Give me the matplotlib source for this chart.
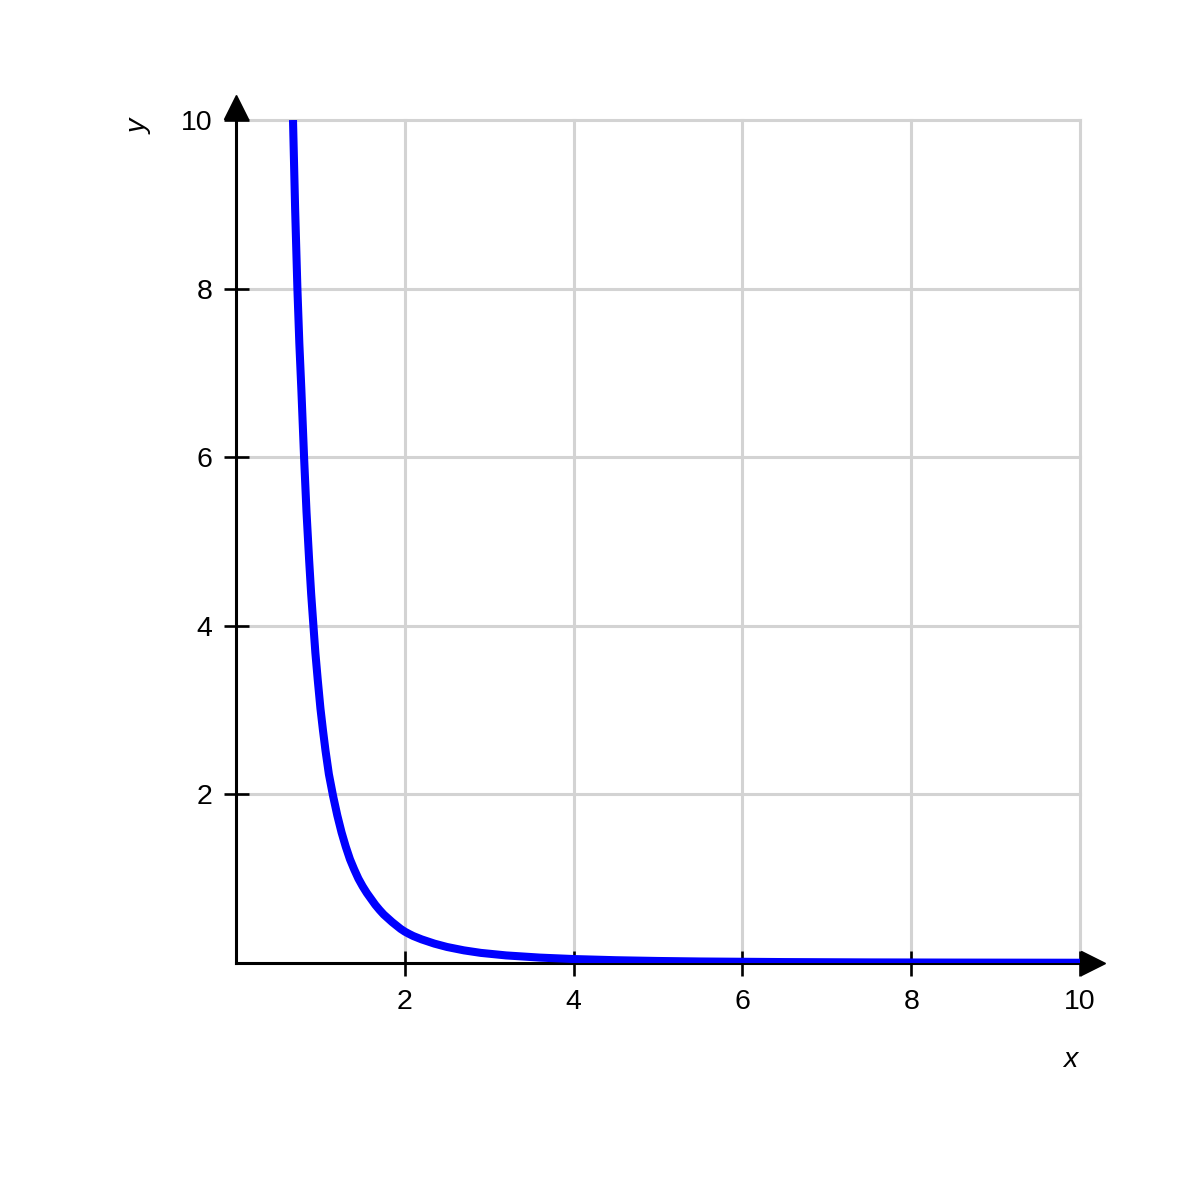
import matplotlib.pyplot as plt

# points
curve_x = [0.675, 0.70, 0.727, 0.75, 0.774, 0.806, 0.835, 0.866, 0.89, 0.917,
           0.94, 0.968, 1.0, 1.03, 1.06, 1.1, 1.15, 1.2, 1.25, 1.3, 1.35,
           1.4, 1.45, 1.5, 1.55, 1.6, 1.65, 1.7, 1.75, 1.8, 1.85, 1.9, 1.95,
           2.0, 2.05, 2.1, 2.2, 2.35, 2.5, 2.7, 2.9, 3.2, 3.6, 4.0, 4.5, 5.0,
           5.5, 6.5, 7.5, 8.5, 10.0]
curve_y = [10.0, 8.95, 8.0, 7.35, 6.8, 6.0, 5.35, 4.78, 4.38, 4.0,
           3.68, 3.36, 3.02, 2.76, 2.52, 2.24, 1.98, 1.75, 1.55, 1.38, 1.23,
           1.11, 1.0, 0.91, 0.83, 0.76, 0.69, 0.63, 0.575, 0.53, 0.485, 0.445, 0.405,
           0.372, 0.345, 0.32, 0.28, 0.23, 0.19, 0.15, 0.12, 0.09, 0.064, 0.047, 0.033,
           0.024, 0.018, 0.011, 0.007, 0.005, 0.003]

x_ticks = [2, 4, 6, 8, 10]
y_ticks = [2, 4, 6, 8, 10]
x_tick_labels = ['2', '4', '6', '8', '10']
y_tick_labels = ['2', '4', '6', '8', '10']

plt.rcParams['font.family'] = ['Liberation Sans', 'DejaVu Sans']

fig = plt.figure(figsize=(12, 12), dpi=100)
ax = fig.add_axes([0.1967, 0.1975, 0.7033, 0.7025])
ax.set_xlim(0, 10)
ax.set_ylim(0, 10)

# grid (unclipped so the lines on the edges keep full width)
for v in x_ticks:
    ax.plot([v, v], [0, 10], color='#d3d3d3', lw=2.2, zorder=1, clip_on=False)
for v in y_ticks:
    ax.plot([0, 10], [v, v], color='#d3d3d3', lw=2.2, zorder=1, clip_on=False)

for s in ax.spines.values():
    s.set_visible(False)

# axes with arrows
ax.plot([0, 0], [0, 10.1], color='black', lw=2.2, clip_on=False, zorder=3)
ax.plot([0, 10.1], [0, 0], color='black', lw=2.2, clip_on=False, zorder=3)
ax.plot([0], [10.15], marker='^', color='black', markersize=17, clip_on=False, zorder=4)
ax.plot([10.15], [0], marker='>', color='black', markersize=17, clip_on=False, zorder=4)

# curve
ax.plot(curve_x, curve_y, color='#0000ff', lw=5.8, solid_capstyle='butt',
        solid_joinstyle='round', zorder=5)

ax.set_xticks(x_ticks)
ax.set_xticklabels(x_tick_labels)
ax.set_yticks(y_ticks)
ax.set_yticklabels(y_tick_labels)
ax.tick_params(direction='inout', length=18, width=1.9, labelsize=20.5, color='black')
ax.tick_params(axis='x', pad=10)
ax.tick_params(axis='y', pad=8)

fig.text(1070 / 1200, 1 - 1060 / 1200, 'x', fontsize=20.5, style='italic',
         ha='center', va='center')
fig.text(140 / 1200, 1 - 127 / 1200, 'y', fontsize=20.5, style='italic',
         ha='center', va='center', rotation=90)

fig.savefig('out.png', dpi=100, facecolor='white')
